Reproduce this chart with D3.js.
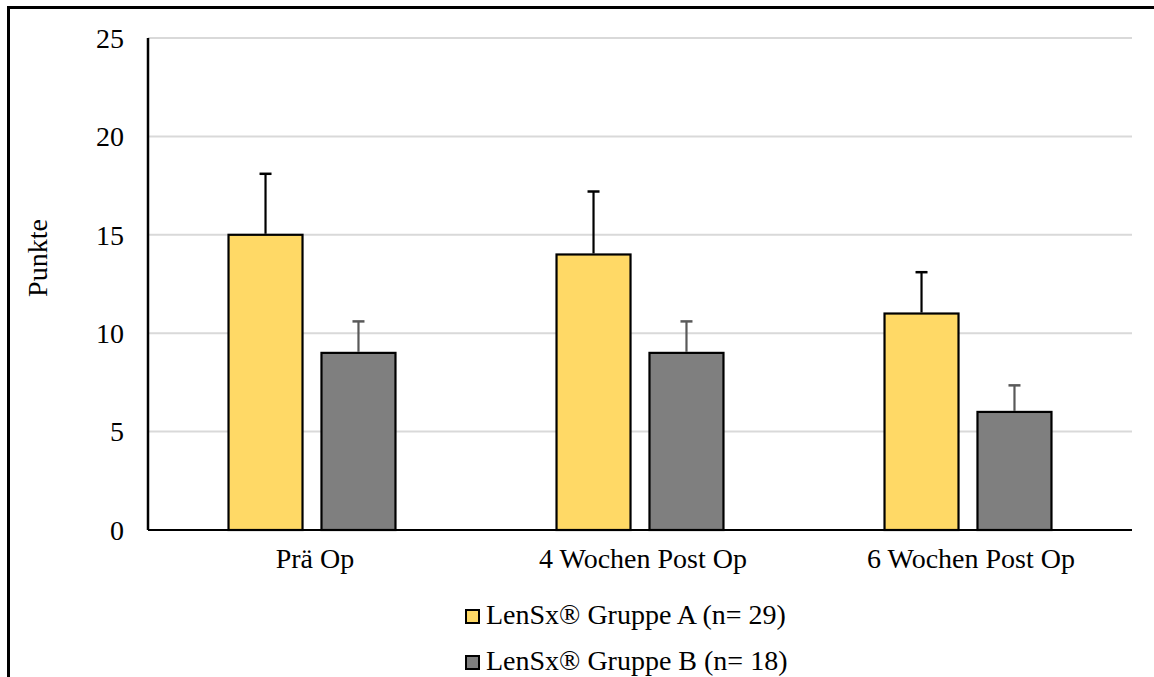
<!DOCTYPE html>
<html>
<head>
<meta charset="utf-8">
<script src="https://cdn.jsdelivr.net/npm/d3@7"></script>
<style>
  html, body { margin: 0; padding: 0; background: #fff; }
  svg { display: block; }
  text { font-family: "Liberation Serif", "Times New Roman", serif; fill: #000; }
</style>
</head>
<body>
<svg id="chart" width="1154" height="677"></svg>
<script>
// Categories, series and values
const categories = ["Prä Op", "4 Wochen Post Op", "6 Wochen Post Op"];
const seriesNames = ["LenSx® Gruppe A (n= 29)", "LenSx® Gruppe B (n= 18)"];
const gruppeA = [15, 14, 11];
const gruppeB = [9, 9, 6];
const errA = [3.1, 3.2, 2.1];
const errB = [1.6, 1.6, 1.35];
const yTicks = [0, 5, 10, 15, 20, 25];

const seriesColors = ["#FFD966", "#7F7F7F"];
const errColors = ["#000000", "#595959"];

const svg = d3.select("#chart");
const W = 1154, H = 677;
const plot = { left: 148, right: 1132, top: 38, bottom: 530 };
const fontSize = 28;

// Outer frame
svg.append("rect")
  .attr("x", 8.5).attr("y", 7.5)
  .attr("width", W + 20).attr("height", H + 20)
  .attr("fill", "none").attr("stroke", "#000").attr("stroke-width", 3);

const y = d3.scaleLinear().domain([0, 25]).range([plot.bottom, plot.top]);
const x0 = d3.scaleBand().domain(categories)
  .range([plot.left, plot.right])
  .paddingInner(0.491).paddingOuter(0.2455);
const x1 = d3.scaleBand().domain(seriesNames)
  .range([0, x0.bandwidth()])
  .paddingInner(0.204).paddingOuter(0);

// Gridlines
svg.append("g").selectAll("line")
  .data(yTicks.filter(d => d > 0))
  .join("line")
  .attr("x1", plot.left).attr("x2", plot.right)
  .attr("y1", d => y(d)).attr("y2", d => y(d))
  .attr("stroke", "#d9d9d9").attr("stroke-width", 2);

// Y tick labels
svg.append("g").selectAll("text")
  .data(yTicks)
  .join("text")
  .attr("x", 124).attr("y", d => y(d))
  .attr("dy", "0.35em")
  .attr("text-anchor", "end")
  .attr("font-size", fontSize)
  .text(d => d);

// Y axis title
svg.append("text")
  .attr("transform", "translate(47,258) rotate(-90)")
  .attr("text-anchor", "middle")
  .attr("font-size", fontSize)
  .text("Punkte");

const seriesData = [gruppeA, gruppeB];
const errData = [errA, errB];

// Bars and error bars
seriesData.forEach((vals, si) => {
  const g = svg.append("g");
  const rows = categories.map((c, i) => ({ c, v: vals[i], e: errData[si][i] }));
  g.selectAll("rect").data(rows).join("rect")
    .attr("x", d => x0(d.c) + x1(seriesNames[si]))
    .attr("y", d => y(d.v))
    .attr("width", x1.bandwidth())
    .attr("height", d => y(0) - y(d.v))
    .attr("fill", seriesColors[si])
    .attr("stroke", "#000").attr("stroke-width", 2.2);

  const cx = d => x0(d.c) + x1(seriesNames[si]) + x1.bandwidth() / 2;
  g.selectAll("line.stem").data(rows).join("line")
    .attr("class", "stem")
    .attr("x1", cx).attr("x2", cx)
    .attr("y1", d => y(d.v) - 1).attr("y2", d => y(d.v + d.e))
    .attr("stroke", errColors[si]).attr("stroke-width", 2.2);
  g.selectAll("line.cap").data(rows).join("line")
    .attr("class", "cap")
    .attr("x1", d => cx(d) - 6).attr("x2", d => cx(d) + 6)
    .attr("y1", d => y(d.v + d.e)).attr("y2", d => y(d.v + d.e))
    .attr("stroke", errColors[si]).attr("stroke-width", 2.5);
});

// Axis lines
svg.append("line")
  .attr("x1", plot.left).attr("x2", plot.left)
  .attr("y1", plot.top).attr("y2", plot.bottom)
  .attr("stroke", "#000").attr("stroke-width", 2.5);
svg.append("line")
  .attr("x1", plot.left).attr("x2", plot.right)
  .attr("y1", plot.bottom).attr("y2", plot.bottom)
  .attr("stroke", "#000").attr("stroke-width", 2);

// Category labels
svg.append("g").selectAll("text")
  .data(categories)
  .join("text")
  .attr("x", d => x0(d) + x0.bandwidth() / 2 + 3)
  .attr("y", 568)
  .attr("text-anchor", "middle")
  .attr("font-size", fontSize)
  .text(d => d);

// Legend
const legend = svg.append("g");
seriesNames.forEach((name, i) => {
  const ly = 616 + i * 46;
  legend.append("rect")
    .attr("x", 466).attr("y", ly - 6)
    .attr("width", 13).attr("height", 13)
    .attr("fill", seriesColors[i])
    .attr("stroke", "#000").attr("stroke-width", 2);
  legend.append("text")
    .attr("x", 486).attr("y", ly + 8)
    .attr("font-size", fontSize)
    .text(name);
});
</script>
</body>
</html>
